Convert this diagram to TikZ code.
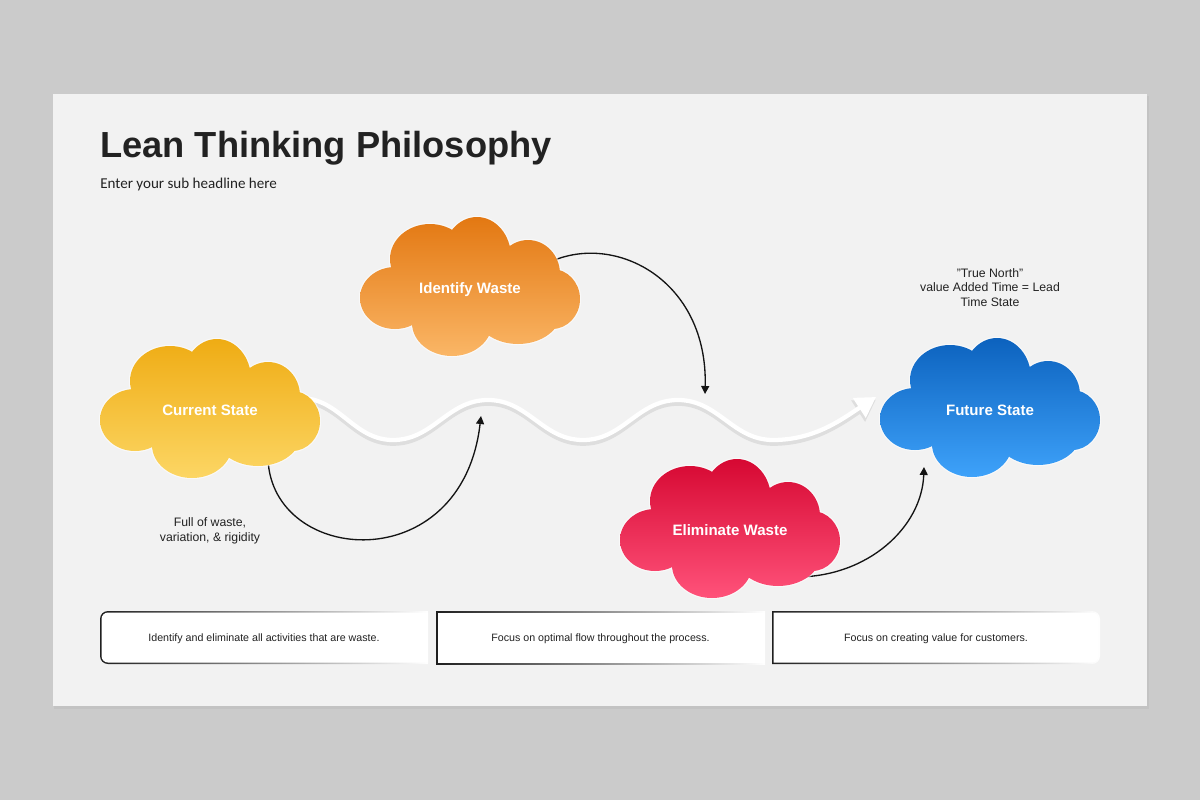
\documentclass[tikz,border=0pt]{standalone}
\usepackage{fontspec}
\setmainfont{Liberation Sans}
\newfontfamily\subfont{Carlito}
\usetikzlibrary{arrows.meta,calc}

\definecolor{bgout}{HTML}{CBCBCB}
\definecolor{slide}{HTML}{F2F2F2}
\definecolor{ink}{HTML}{222222}
\definecolor{csTop}{RGB}{239,172,20}
\definecolor{csBot}{RGB}{252,214,100}
\definecolor{iwTop}{RGB}{227,120,18}
\definecolor{iwBot}{RGB}{250,182,102}
\definecolor{ewTop}{RGB}{214,8,50}
\definecolor{ewBot}{RGB}{255,82,122}
\definecolor{fsTop}{RGB}{12,98,190}
\definecolor{fsBot}{RGB}{62,162,250}
\definecolor{waveshadow}{HTML}{DEDEDE}

% #1 left, #2 top, #3 top colour, #4 bottom colour (cloud 220 x 140 px)
\newcommand{\mycloud}[4]{%
\begin{scope}[shift={(#1,#2)}]
\fill[white, opacity=0.55]
 (35,81) ellipse[x radius=36.2, y radius=32.2]
 (70,42) ellipse[x radius=41.2, y radius=36.2]
 (117,40) ellipse[x radius=35.2, y radius=41.2]
 (168,57) ellipse[x radius=33.2, y radius=35.2]
 (192,82) ellipse[x radius=29.2, y radius=31.2]
 (158,95) ellipse[x radius=44.2, y radius=33.2]
 (92,106) ellipse[x radius=41.2, y radius=34.2];
\shade[top color=#3, bottom color=#4]
 (35,81) ellipse[x radius=35, y radius=31]
 (70,42) ellipse[x radius=40, y radius=35]
 (117,40) ellipse[x radius=34, y radius=40]
 (168,57) ellipse[x radius=32, y radius=34]
 (192,82) ellipse[x radius=28, y radius=30]
 (158,95) ellipse[x radius=43, y radius=32]
 (92,106) ellipse[x radius=40, y radius=33]
 (110,75) ellipse[x radius=82, y radius=42];
\end{scope}}

\begin{document}
\begin{tikzpicture}[x=0.75pt,y=-0.75pt,
  cloudlabel/.style={text=white, font=\bfseries\fontsize{11.3}{13}\selectfont, anchor=base, inner sep=0pt},
  note/.style={text=ink, font=\fontsize{9.2}{11.1}\selectfont, align=center, inner sep=0pt},
  boxtext/.style={text=ink, font=\fontsize{8}{9.6}\selectfont, anchor=base, inner sep=0pt},
  conn/.style={draw=black!92, line width=1pt, -{Triangle[length=6pt,width=6pt]}},
  boxborder/.style={left color=black!88, right color=white},
]
\useasboundingbox (0,0) rectangle (1200,800);
\fill[bgout] (0,0) rectangle (1200,800);
\fill[black, opacity=0.04] (54,96) rectangle (1149,709);
\fill[slide] (53,94) rectangle (1147,706);

% title
\node[anchor=base west, inner sep=0pt, text=ink, font=\bfseries\fontsize{27.2}{33}\selectfont] (title) at (100,157) {Lean Thinking Philosophy};
\node[anchor=base west, inner sep=0pt, text=ink, font=\subfont\fontsize{11.3}{13.5}\selectfont] (subtitle) at (100,188) {Enter your sub headline here};

% wavy flow line (shadow, then white line)
\draw[waveshadow, line width=5pt, -{Triangle[length=16pt,width=18pt]}]
 (300,400.5) to[out=0,in=180] (393,442.5) to[out=0,in=180] (488,402.5)
 to[out=0,in=180] (583,442.5) to[out=0,in=180] (678,402.5)
 to[out=0,in=180] (773,442.5) .. controls (815,442.5) and (842.5,421.3) .. (876,399.5);
\draw[white, line width=3.2pt, -{Triangle[length=15pt,width=17pt]}]
 (300,398) to[out=0,in=180] (393,440) to[out=0,in=180] (488,400)
 to[out=0,in=180] (583,440) to[out=0,in=180] (678,400)
 to[out=0,in=180] (773,440) .. controls (815,440) and (842.5,418.8) .. (876,397);

% cloud label anchors (placed first so connectors can refer to them)
\node[cloudlabel] (cs) at (210,415) {\phantom{Current State}};
\node[cloudlabel] (iw) at (470,293) {\phantom{Identify Waste}};
\node[cloudlabel] (ew) at (730,535) {\phantom{Eliminate Waste}};
\node[cloudlabel] (fs) at (990,415) {\phantom{Future State}};

% connector end points
\coordinate (a1s) at ($(cs.base)+(58,44)$);
\coordinate (a1e) at (481,416);
\coordinate (a2s) at ($(iw.base)+(80,-31)$);
\coordinate (a2e) at (705,394);
\coordinate (a3s) at ($(ew.base)+(66,42)$);
\coordinate (a3e) at ($(fs.base)+(-66,52)$);

\draw[conn] (a1s) .. controls +(4,106) and +(-19,164) .. (a1e);
\draw[conn] (a2s) .. controls +(65,-30) and +(3,-114) .. (a2e);
\draw[conn] (a3s) .. controls +(72,0) and +(-2,60) .. (a3e);

% clouds
\mycloud{100}{339}{csTop}{csBot}
\mycloud{360}{217}{iwTop}{iwBot}
\mycloud{620}{459}{ewTop}{ewBot}
\mycloud{880}{338}{fsTop}{fsBot}

\node[cloudlabel] at (cs.base) {Current State};
\node[cloudlabel] at (iw.base) {Identify Waste};
\node[cloudlabel] at (ew.base) {Eliminate Waste};
\node[cloudlabel] at (fs.base) {Future State};

% notes
\node[note] (waste) at (210,531) {Full of waste,\\variation, \& rigidity};
\node[note] (north) at (990,287.5) {{\char34}True North{\char34}\\value Added Time = Lead\\Time State};

% bottom boxes
\shade[boxborder] (428,611) -- (108,611) arc[start angle=-90,end angle=-180,radius=8]
 -- (100,656) arc[start angle=180,end angle=90,radius=8] -- (428,664) -- cycle;
\fill[white] (428,612.5) -- (108,612.5) arc[start angle=-90,end angle=-180,radius=6.5]
 -- (101.5,656) arc[start angle=180,end angle=90,radius=6.5] -- (428,662.5) -- cycle;

\shade[boxborder] (436,611) rectangle (765,664);
\fill[white] (437.5,612.5) rectangle (765,662.5);

\shade[boxborder] (772,611) -- (1092,611) arc[start angle=-90,end angle=0,radius=8]
 -- (1100,656) arc[start angle=0,end angle=90,radius=8] -- (772,664) -- cycle;
\fill[white] (773.5,612.5) -- (1092,612.5) arc[start angle=-90,end angle=0,radius=6.5]
 -- (1098.5,656) arc[start angle=0,end angle=90,radius=6.5] -- (773.5,662.5) -- cycle;

\node[boxtext] (b1) at (264,641.5) {Identify and eliminate all activities that are waste.};
\node[boxtext] (b2) at (600.5,641.5) {Focus on optimal flow throughout the process.};
\node[boxtext] (b3) at (936,641.5) {Focus on creating value for customers.};
\end{tikzpicture}
\end{document}
